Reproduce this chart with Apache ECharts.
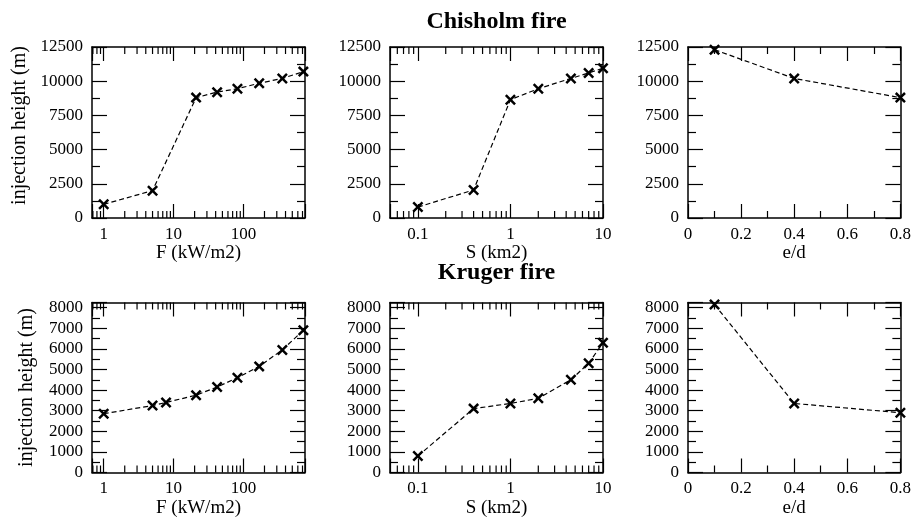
<!DOCTYPE html>
<html><head><meta charset="utf-8">
<script src="https://cdn.jsdelivr.net/npm/echarts@6/dist/echarts.min.js"></script>
<style>html,body{margin:0;padding:0;background:#fff}#c{width:914px;height:519px}</style>
</head><body><div id="c"></div>
<script>
// ---- data ----
const chisholmF_x = [1, 5, 21, 42, 82, 168, 360, 720];
const chisholmF_y = [1000, 2000, 8800, 9200, 9450, 9850, 10200, 10700];
const chisholmS_x = [0.1, 0.4, 1, 2, 4.5, 7, 10];
const chisholmS_y = [800, 2050, 8650, 9450, 10200, 10600, 10950];
const chisholmE_x = [0.1, 0.4, 0.8];
const chisholmE_y = [12300, 10200, 8800];
const krugerF_x = [1, 5, 7.8, 21, 42, 82, 168, 360, 720];
const krugerF_y = [2850, 3250, 3400, 3750, 4150, 4600, 5150, 5950, 6900];
const krugerS_x = [0.1, 0.4, 1, 2, 4.5, 7, 10];
const krugerS_y = [800, 3100, 3350, 3600, 4500, 5300, 6300];
const krugerE_x = [0.1, 0.4, 0.8];
const krugerE_y = [8150, 3350, 2900];

const titles = ['Chisholm fire', 'Kruger fire'];
const xNames = ['F (kW/m2)', 'S (km2)', 'e/d'];
const yName = 'injection height (m)';
const fRange = [0.68, 760];
const sRange = [0.05, 10];
const eRange = [0, 0.8];
const eInterval = 0.2;
const topYRange = [0, 12500];
const topYInterval = 2500;
const botYRange = [0, 8250];
const botYInterval = 1000;
const fMinorTicks = [0.7, 0.8, 0.9, 2, 3, 4, 5, 6, 7, 8, 9, 20, 30, 40, 50, 60, 70, 80, 90, 200, 300, 400, 500, 600, 700];
const sMinorTicks = [0.06, 0.07, 0.08, 0.09, 0.2, 0.3, 0.4, 0.5, 0.6, 0.7, 0.8, 0.9, 2, 3, 4, 5, 6, 7, 8, 9];

// ---- layout ----
const colLeft = [92, 390, 688];
const colWidth = [213, 213, 214];
const rowTop = [47, 302.5];
const rowHeight = [171, 170];
const titleY = [22, 273];
const yNameGap = [62, 55];
const yNamePad = [[0, 0, 0, 14], [0, 0, 0, 0]];
const FONT = 'Liberation Serif';
const CROSS = 'path://M1.6,0 L5,3.4 L8.4,0 L10,1.6 L6.6,5 L10,8.4 L8.4,10 L5,6.6 L1.6,10 L0,8.4 L3.4,5 L0,1.6 Z';

const panels = [
  {xs: chisholmF_x, ys: chisholmF_y, xType: 'log', xr: fRange, minor: fMinorTicks},
  {xs: chisholmS_x, ys: chisholmS_y, xType: 'log', xr: sRange, minor: sMinorTicks},
  {xs: chisholmE_x, ys: chisholmE_y, xType: 'value', xr: eRange},
  {xs: krugerF_x, ys: krugerF_y, xType: 'log', xr: fRange, minor: fMinorTicks},
  {xs: krugerS_x, ys: krugerS_y, xType: 'log', xr: sRange, minor: sMinorTicks},
  {xs: krugerE_x, ys: krugerE_y, xType: 'value', xr: eRange}
];

const grid = [], xAxis = [], yAxis = [], series = [];
const black = '#000';
const lineW = 1.5;
function fmtNum(v) { return String(+(+v).toPrecision(6)); }

panels.forEach((p, i) => {
  const r = Math.floor(i / 3), c = i % 3;
  const yr = r === 0 ? topYRange : botYRange;
  const yInt = r === 0 ? topYInterval : botYInterval;
  grid.push({left: colLeft[c], top: rowTop[r], width: colWidth[c], height: rowHeight[r], containLabel: false});
  const xBase = {
    gridIndex: i, type: p.xType, min: p.xr[0], max: p.xr[1],
    splitLine: {show: false},
    axisLine: {show: true, onZero: false, lineStyle: {color: black, width: lineW}},
    axisTick: {show: true, inside: true, length: 14, lineStyle: {color: black, width: 1.2}}
  };
  if (p.xType === 'log') { xBase.logBase = 10; }
  else { xBase.interval = eInterval; xBase.minorTick = {show: true, splitNumber: 2, length: 7, lineStyle: {color: black, width: 1.2}}; }
  xAxis.push(Object.assign({}, xBase, {
    position: 'bottom',
    axisLabel: {show: true, color: black, fontFamily: FONT, fontSize: 17, margin: 8,
      formatter: v => {
        if (p.xType === 'log') { const l = Math.log10(v); return Math.abs(l - Math.round(l)) < 1e-6 ? fmtNum(v) : ''; }
        return fmtNum(v);
      }},
    name: xNames[c], nameLocation: 'middle', nameGap: 24,
    nameTextStyle: {color: black, fontFamily: FONT, fontSize: 19}
  }));
  xAxis.push(Object.assign({}, xBase, {position: 'top', axisLabel: {show: false}}));
  const yBase = {
    gridIndex: i, type: 'value', min: yr[0], max: yr[1], interval: yInt,
    splitLine: {show: false},
    axisLine: {show: true, onZero: false, lineStyle: {color: black, width: lineW}},
    axisTick: {show: true, inside: true, length: 15, lineStyle: {color: black, width: 1.2}},
    minorTick: {show: true, splitNumber: 2, length: 8, lineStyle: {color: black, width: 1.2}}
  };
  const yLeft = Object.assign({}, yBase, {
    position: 'left',
    axisLabel: {show: true, color: black, fontFamily: FONT, fontSize: 17, margin: 9,
      formatter: v => (Math.abs(v % yInt) < 1e-6 ? String(v) : '')}
  });
  if (c === 0) {
    yLeft.name = yName; yLeft.nameLocation = 'middle'; yLeft.nameGap = yNameGap[r];
    yLeft.nameTextStyle = {color: black, fontFamily: FONT, fontSize: 20, padding: yNamePad[r]};
  }
  yAxis.push(yLeft);
  yAxis.push(Object.assign({}, yBase, {position: 'right', axisLabel: {show: false}}));

  series.push({
    type: 'line', xAxisIndex: 2 * i, yAxisIndex: 2 * i,
    data: p.xs.map((x, k) => [x, p.ys[k]]),
    symbol: CROSS, symbolSize: 11, showSymbol: true, showAllSymbol: true,
    itemStyle: {color: black},
    lineStyle: {color: black, width: 1.2, type: [5, 3]},
    clip: false, animation: false, z: 3
  });
  if (p.minor) {
    series.push({
      type: 'custom', xAxisIndex: 2 * i, yAxisIndex: 2 * i, silent: true, animation: false, clip: false,
      data: p.minor.map(v => [v, yr[0]]), encode: {x: 0, y: 1},
      renderItem: (params, api) => {
        const cs = params.coordSys;
        const x = api.coord([api.value(0), api.value(1)])[0];
        const b = cs.y + cs.height, t = cs.y, L = 7;
        return {type: 'group', children: [
          {type: 'line', shape: {x1: x, y1: b, x2: x, y2: b - L}, style: {stroke: black, lineWidth: 1.2}},
          {type: 'line', shape: {x1: x, y1: t, x2: x, y2: t + L}, style: {stroke: black, lineWidth: 1.2}}
        ]};
      }
    });
  }
});

const graphic = titles.map((t, r) => ({
  type: 'text', x: colLeft[1] + colWidth[1] / 2, y: titleY[r],
  style: {text: t, fill: black, font: 'bold 24px "' + FONT + '"', align: 'center', verticalAlign: 'middle'}
}));

const chart = echarts.init(document.getElementById('c'));
chart.setOption({
  animation: false,
  backgroundColor: '#fff',
  textStyle: {fontFamily: FONT},
  grid, xAxis, yAxis, series, graphic
});
</script></body></html>
